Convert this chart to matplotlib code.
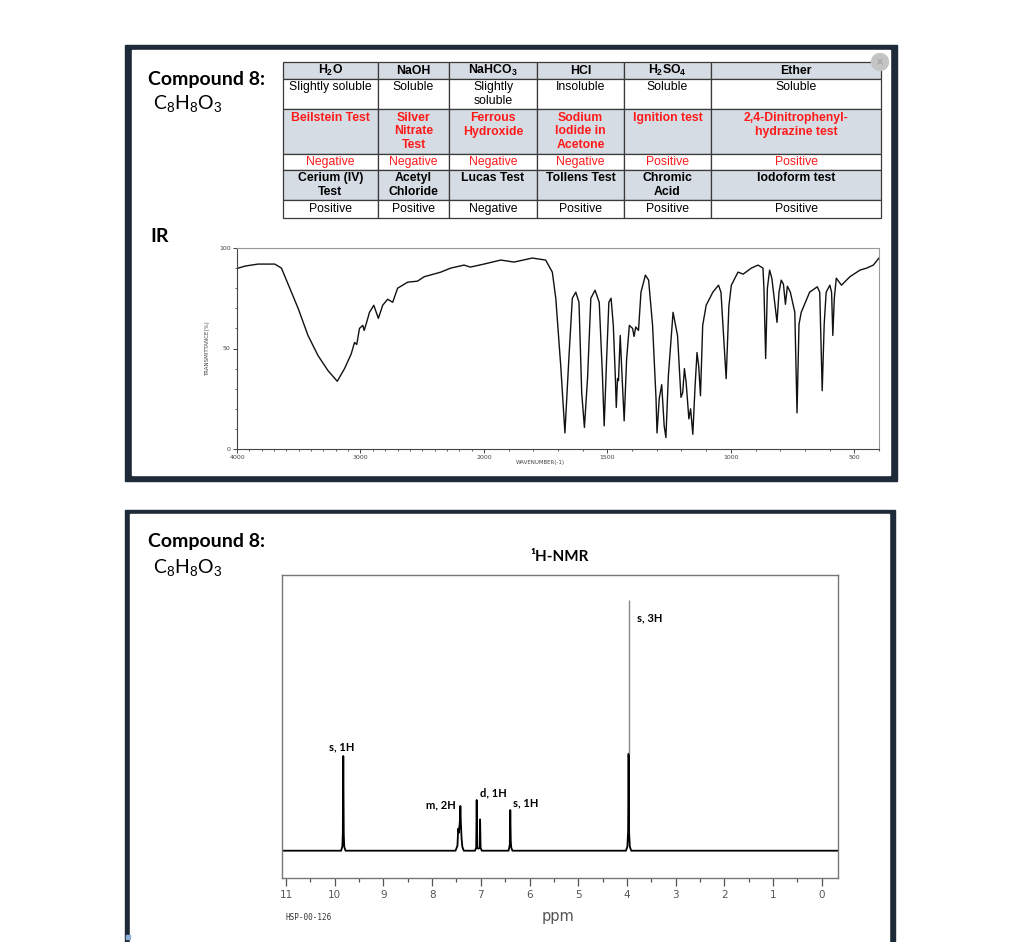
import numpy as np
import matplotlib
matplotlib.use('Agg')
import matplotlib.pyplot as plt
from matplotlib.patches import Rectangle, Circle
from matplotlib.transforms import Affine2D

plt.rcParams['mathtext.fontset'] = 'custom'
plt.rcParams['mathtext.rm'] = 'Liberation Sans'
plt.rcParams['mathtext.it'] = 'Liberation Sans:italic'
plt.rcParams['mathtext.bf'] = 'Liberation Sans:bold'

# ---- table data ----
col_heads = [r'H$_\mathbf{2}$O', 'NaOH', r'NaHCO$_\mathbf{3}$', 'HCl', r'H$_\mathbf{2}$SO$_\mathbf{4}$', 'Ether']
solubility = ['Slightly soluble', 'Soluble', 'Slightly\nsoluble', 'Insoluble', 'Soluble', 'Soluble']
tests_1 = ['Beilstein Test', 'Silver\nNitrate\nTest', 'Ferrous\nHydroxide', 'Sodium\nIodide in\nAcetone',
           'Ignition test', '2,4-Dinitrophenyl-\nhydrazine test']
results_1 = ['Negative', 'Negative', 'Negative', 'Negative', 'Positive', 'Positive']
tests_2 = ['Cerium (IV)\nTest', 'Acetyl\nChloride', 'Lucas Test', 'Tollens Test', 'Chromic\nAcid', 'Iodoform test']
results_2 = ['Positive', 'Positive', 'Negative', 'Positive', 'Positive', 'Positive']

# ---- IR spectrum (wavenumber, %T) ----
ir_wn = [4000, 3935, 3830, 3694, 3640, 3559, 3505, 3425, 3344, 3263, 3188, 3129, 3075, 3048, 3030, 3008,
         2981, 2970, 2950, 2927, 2892, 2855, 2820, 2780, 2739, 2699, 2618, 2538, 2484, 2349, 2269, 2161,
         2110, 2000, 1932, 1878, 1804, 1750, 1723, 1709, 1689, 1672, 1656, 1642, 1628, 1615, 1604, 1593,
         1580, 1567, 1550, 1533, 1520, 1513, 1503, 1494, 1485, 1476, 1468, 1464, 1459, 1455, 1448, 1442,
         1432, 1422, 1411, 1398, 1392, 1385, 1374, 1364, 1346, 1333, 1317, 1303, 1299, 1290, 1280, 1270,
         1263, 1253, 1234, 1216, 1202, 1195, 1188, 1181, 1170, 1163, 1154, 1145, 1137, 1130, 1123, 1114,
         1100, 1073, 1050, 1040, 1019, 1008, 998, 971, 950, 917, 890, 870, 866, 859, 852, 843, 834, 823,
         813, 805, 796, 787, 779, 771, 759, 741, 732, 724, 715, 681, 650, 640, 630, 622, 614, 599, 592,
         587, 581, 573, 552, 518, 477, 450, 423, 400]
ir_t = [89.8, 91, 92, 92, 90, 78, 70, 56.5, 46.5, 39, 33.7, 40, 47.3, 53, 52, 60,
        61.5, 59, 63, 68, 71.5, 65, 71.5, 74.5, 73, 80, 83, 83.5, 85.7, 88, 90, 91.5,
        90.5, 92, 94, 93, 95, 94, 88, 75, 41.5, 8, 45, 75, 78, 73, 28, 10.7,
        36, 75, 79, 73, 36.5, 11.5, 45, 73, 75, 61.5, 36.5, 20.7, 35, 34, 56.5, 40,
        14, 45, 61.5, 60, 56, 60.7, 59, 78, 86.5, 84, 61.5, 25, 8, 25, 32, 11.5,
        5.7, 36.5, 68, 56.5, 25.7, 28, 40, 33, 15, 20, 7.3, 31, 48, 41, 26.5, 61.5,
        71.5, 78, 81.5, 78, 35, 71, 81.5, 88, 87, 90, 91.5, 90, 80, 45, 80, 89, 85, 73.5,
        63, 78, 84, 82, 72, 81, 78, 68, 18, 62, 68, 78, 80.7, 78, 29, 62, 78, 81.5, 78,
        56.5, 75, 85, 81.5, 85.7, 89, 90, 91.5, 95]

# ---- 1H NMR (ppm, intensity) ----
nmr_ppm = [11.09, 9.87, 9.845, 9.835, 9.825, 9.815, 9.805, 9.78,
           7.52, 7.48, 7.465, 7.45, 7.43, 7.42, 7.41, 7.395, 7.38, 7.35,
           7.12, 7.095, 7.085, 7.075, 7.05, 7.025, 7.015, 7.005, 6.98,
           6.43, 6.405, 6.395, 6.385, 6.375, 6.35,
           4.02, 3.99, 3.975, 3.965, 3.955, 3.94, 3.91, -0.33]
nmr_int = [0, 0, 4, 16, 94.7, 16, 4, 0,
           0, 5, 22, 18, 30, 44.7, 28, 12, 4, 0,
           0, 3, 50.7, 3, 2, 3, 31.3, 3, 0,
           0, 6, 40.7, 10, 3, 0,
           0, 4, 19, 97, 19, 4, 0, 0]
tip_ppm = 3.962
tip_int = [97, 251]
nmr_labels = ['s, 1H', 'm, 2H', 'd, 1H', 's, 1H', 's, 3H']
label_ppm = [9.85, 7.82, 6.75, 6.07, 3.54]
label_int = [104, 46, 58, 48, 233]

W, H = 1024, 942
fig = plt.figure(figsize=(W / 100, H / 100), dpi=100)
pix = Affine2D().scale(1 / W, -1 / H).translate(0, 1) + fig.transFigure


def box(x0, y0, x1, y1):
    return [x0 / W, 1 - y1 / H, (x1 - x0) / W, (y1 - y0) / H]


navy = '#1e2a37'
# panel frames
for (x0, y0, x1, y1, t) in [(125, 45, 897, 481, (7, 5, 7, 6)), (125, 510, 895, 948, (5, 4, 6, 6))]:
    fig.add_artist(Rectangle((x0, y0), x1 - x0, y1 - y0, transform=pix, color=navy, zorder=0))
    fig.add_artist(Rectangle((x0 + t[0], y0 + t[1]), x1 - x0 - t[0] - t[2], y1 - y0 - t[1] - t[3],
                             transform=pix, color='white', zorder=0))
fig.add_artist(Circle((880, 62), 8.5, transform=pix, color='#c4c4c4', zorder=5))
fig.text(880 / W, 1 - 62 / H, '×', ha='center', va='center', fontsize=7, color='#999999', zorder=6)
fig.add_artist(Rectangle((126, 935), 4, 4, transform=pix, color='#8fb0d6', zorder=5))

cfont = ['Lato', 'DejaVu Sans']
for yc, yf in [(79, 104), (542, 568)]:
    fig.text(148 / W, 1 - yc / H, 'Compound 8:', fontsize=14, fontweight='bold', family=cfont,
             ha='left', va='center')
    fig.text(153 / W, 1 - yf / H, r'C$_8$H$_8$O$_3$', fontsize=14, family=cfont, ha='left', va='center')
fig.text(150 / W, 1 - 237 / H, 'IR', fontsize=14, fontweight='bold', family=cfont, ha='left', va='center')

# ---- table ----
rows = [col_heads, solubility, tests_1, results_1, tests_2, results_2]
row_px = [17, 30, 45, 16, 30, 18]
col_px = [95, 71, 88, 87, 87, 170]
cells = []
for r in rows:
    n = max(s.count('\n') + 1 for s in r)
    cells.append([s + '\n' * (n - s.count('\n') - 1) for s in r])

ax_tab = fig.add_axes(box(283, 62, 881, 218))
ax_tab.axis('off')
tab = ax_tab.table(cellText=cells, colWidths=[c / sum(col_px) for c in col_px], bbox=[0, 0, 1, 1],
                   cellLoc='center')
tab.auto_set_font_size(False)
tab.set_fontsize(8.8)
gray = '#d6dce4'
for (r, c), cell in tab.get_celld().items():
    cell.set_height(row_px[r] / sum(row_px))
    cell.set_edgecolor('#3a3a3a')
    cell.set_linewidth(0.9)
    txt = cell.get_text()
    txt.set_fontfamily(['Liberation Sans', 'DejaVu Sans'])
    txt.set_linespacing(1.15)
    if r in (0, 2, 4):
        cell.set_facecolor(gray)
        txt.set_fontweight('bold')
    if r in (2, 3):
        txt.set_color('#ff1a1a')

# ---- IR ----
def fwd(w):
    w = np.asarray(w, dtype=float)
    return np.where(w >= 2000, w, 2 * w - 2000)


def inv(u):
    u = np.asarray(u, dtype=float)
    return np.where(u >= 2000, u, (u + 2000) / 2)


ax_ir = fig.add_axes(box(237, 248, 879, 449))
ax_ir.set_xscale('function', functions=(fwd, inv))
ax_ir.plot(ir_wn, ir_t, color='#111111', lw=1.0)
ax_ir.set_xlim(4000, 400)
ax_ir.set_ylim(0, 100)
ax_ir.set_xticks([4000, 3000, 2000, 1500, 1000, 500])
ax_ir.set_xticklabels(['4000', '3000', '2000', '1500', '1000', '500'])
ax_ir.set_xticks(np.arange(400, 4001, 100), minor=True)
ax_ir.set_yticks([0, 50, 100])
ax_ir.set_yticklabels(['0', '50', '100'])
ax_ir.set_yticks(np.arange(0, 101, 10), minor=True)
ax_ir.tick_params(which='major', length=3, width=0.7, labelsize=4.5, colors='#444444', pad=1.5)
ax_ir.tick_params(which='minor', length=1.5, width=0.6, colors='#444444')
for s in ax_ir.spines.values():
    s.set_linewidth(0.8)
    s.set_color('#999999')
ax_ir.spines['left'].set_color('#444444')
ax_ir.spines['bottom'].set_color('#444444')
ax_ir.set_xlabel('WAVENUMBER(-1)', fontsize=4, color='#444444')
ax_ir.xaxis.set_label_coords(0.472, -0.055)
ax_ir.set_ylabel('TRANSMITTANCE(%)', fontsize=4, color='#444444')
ax_ir.yaxis.set_label_coords(-0.042, 0.5)

# ---- NMR ----
ax_n = fig.add_axes(box(281.7, 575, 837.7, 878))
ax_n.plot(nmr_ppm, nmr_int, color='black', lw=1.3)
ax_n.vlines(tip_ppm, tip_int[0], tip_int[1], color='#8a8a8a', lw=1)
ax_n.set_xlim(11.09, -0.33)
ax_n.set_ylim(-27.3, 275.7)
ax_n.set_xticks(range(0, 12))
ax_n.set_xticks(np.arange(0.5, 11, 1), minor=True)
ax_n.set_yticks([])
ax_n.tick_params(which='major', direction='out', length=6, width=0.9, labelsize=7.5,
                 colors='#555555', pad=3)
ax_n.tick_params(which='minor', direction='out', length=3, width=0.9, colors='#555555')
for s in ax_n.spines.values():
    s.set_linewidth(1)
    s.set_color('#777777')
for lab, xp, yp in zip(nmr_labels, label_ppm, label_int):
    ax_n.text(xp, yp, lab, fontsize=8, fontweight='bold', family=cfont, ha='center', va='center')
fig.text(558 / W, 1 - 917 / H, 'ppm', fontsize=10.5, color='#555555', ha='center', va='center')
fig.text(285 / W, 1 - 918 / H, 'HSP-00-126', fontsize=5.5, family='DejaVu Sans Mono', color='#333333',
         ha='left', va='center')
fig.text(560 / W, 1 - 557 / H, '¹H-NMR', fontsize=11, fontweight='bold', family=cfont,
         ha='center', va='center')

fig.savefig('out.png', dpi=100)
